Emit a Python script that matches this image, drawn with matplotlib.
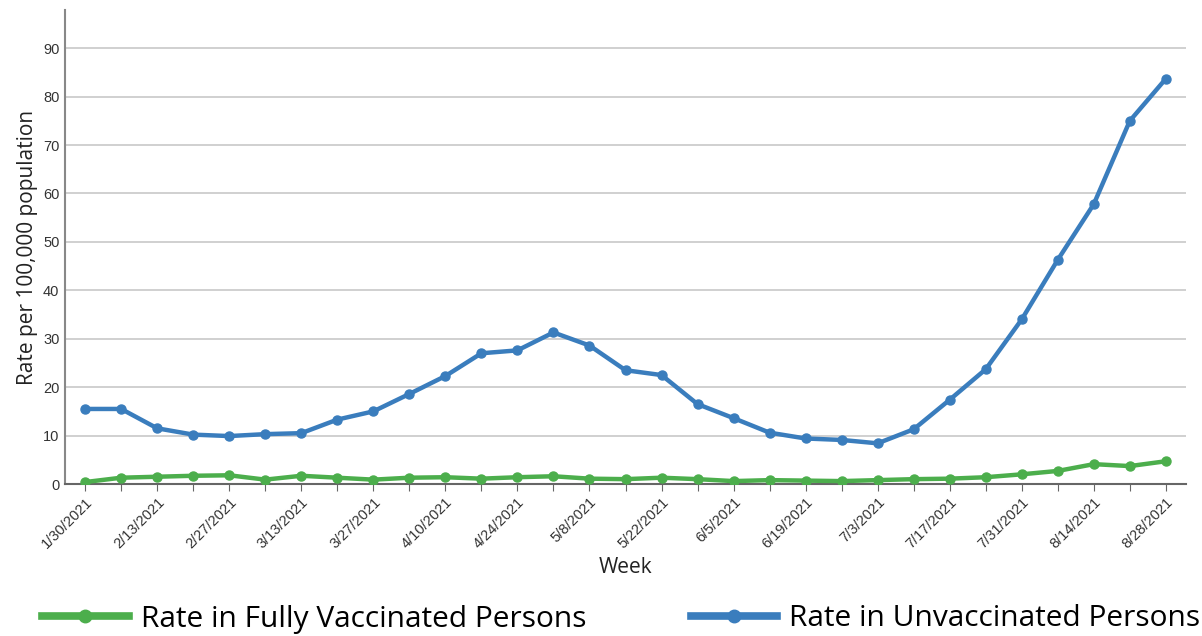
import numpy as np
import matplotlib
matplotlib.use("Agg")
import matplotlib.pyplot as plt
from matplotlib.lines import Line2D

# weekly rates, 1/30/2021 .. 8/28/2021
weeks = ["1/30/2021", "2/6/2021", "2/13/2021", "2/20/2021", "2/27/2021", "3/6/2021",
         "3/13/2021", "3/20/2021", "3/27/2021", "4/3/2021", "4/10/2021", "4/17/2021",
         "4/24/2021", "5/1/2021", "5/8/2021", "5/15/2021", "5/22/2021", "5/29/2021",
         "6/5/2021", "6/12/2021", "6/19/2021", "6/26/2021", "7/3/2021", "7/10/2021",
         "7/17/2021", "7/24/2021", "7/31/2021", "8/7/2021", "8/14/2021", "8/21/2021",
         "8/28/2021"]

unvaccinated = [15.5, 15.5, 11.5, 10.2, 9.9, 10.3, 10.5, 13.3, 15.0, 18.6, 22.3, 27.0,
                27.6, 31.3, 28.6, 23.5, 22.5, 16.5, 13.6, 10.6, 9.4, 9.1, 8.4, 11.3,
                17.4, 23.7, 34.0, 46.3, 57.8, 75.0, 83.7]

vaccinated = [0.4, 1.3, 1.5, 1.7, 1.8, 0.9, 1.7, 1.3, 0.9, 1.3, 1.4, 1.1, 1.4, 1.6, 1.1,
              1.0, 1.3, 1.0, 0.6, 0.8, 0.7, 0.6, 0.8, 1.0, 1.1, 1.4, 2.0, 2.7, 4.1, 3.7,
              4.7]

BLUE = "#3a7dbd"
GREEN = "#4cae4c"

fig = plt.figure(figsize=(12.02, 6.36), dpi=100)
ax = fig.add_axes([65/1202, 1 - 484/636, (1186-65)/1202, (484-10)/636])

x = np.arange(len(weeks))
ax.plot(x, vaccinated, color=GREEN, lw=3.2, marker="o", ms=6.5, zorder=3)
ax.plot(x, unvaccinated, color=BLUE, lw=3.2, marker="o", ms=6.5, zorder=3)

ax.set_xlim(-0.56, 30.56)
ax.set_ylim(0, 97.9)
ax.set_yticks(np.arange(0, 100, 10))
ax.set_xticks(x)
ax.set_xticklabels([w if i % 2 == 0 else "" for i, w in enumerate(weeks)],
                   rotation=45, ha="right", rotation_mode="anchor",
                   fontsize=10.5, family="Liberation Sans", color="#333333")
for lab in ax.get_yticklabels():
    lab.set_family("Liberation Sans")
ax.tick_params(axis="y", length=0, labelsize=10.5, labelcolor="#333333", pad=4)
ax.tick_params(axis="x", length=5, color="#666666", pad=3)

ax.grid(axis="y", color="#c8c8c8", lw=1.2)
ax.set_axisbelow(True)
for s in ["top", "right"]:
    ax.spines[s].set_visible(False)
ax.spines["left"].set_color("#888888")
ax.spines["left"].set_linewidth(1.5)
ax.spines["bottom"].set_color("#666666")
ax.spines["bottom"].set_linewidth(1.5)

ax.set_ylabel("Rate per 100,000 population", family="Open Sans", fontsize=15,
              color="#222222", labelpad=4)
ax.set_xlabel("Week", family="Open Sans", fontsize=15, color="#222222", labelpad=4)

handles = [Line2D([], [], color=GREEN, lw=5.5, marker="o", ms=9),
           Line2D([], [], color=BLUE, lw=5.5, marker="o", ms=9)]
fig.legend(handles, ["Rate in Fully Vaccinated Persons", "Rate in Unvaccinated Persons"],
           loc="center left", bbox_to_anchor=(42/1202, 17/636), ncol=2, frameon=False,
           borderaxespad=0, borderpad=0,
           prop={"family": "Open Sans", "size": 21.5}, handlelength=2.9,
           columnspacing=3.5, handletextpad=0.4)

fig.savefig("out.png", dpi=100)
